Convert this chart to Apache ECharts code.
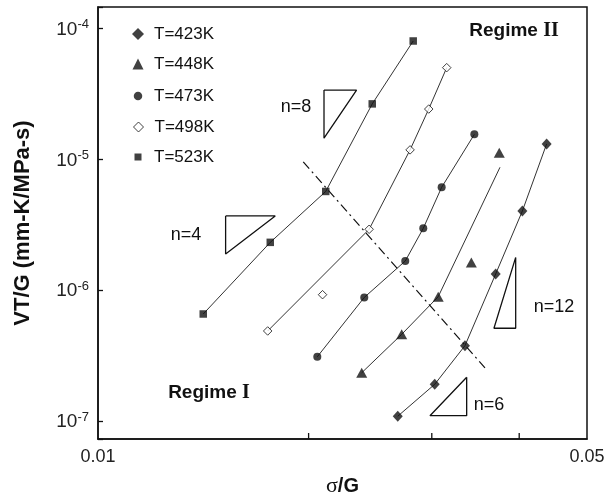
<!DOCTYPE html>
<html>
<head>
<meta charset="utf-8">
<script src="https://cdn.jsdelivr.net/npm/echarts@6/dist/echarts.min.js"></script>
<style>html,body{margin:0;padding:0;background:#fff;}#c{width:608px;height:502px;}</style>
</head>
<body>
<div id="c"></div>
<script>
// ---- data ----
const seriesNames = ['T=423K', 'T=448K', 'T=473K', 'T=498K', 'T=523K'];
const x423 = [0.02682, 0.03029, 0.03346, 0.03702, 0.04042, 0.04378];
const y423 = [1.09e-7, 1.91e-7, 3.77e-7, 1.33e-6, 4.03e-6, 1.31e-5];
const x448 = [0.02382, 0.02717, 0.03064, 0.03417, 0.03746];
const y448 = [2.34e-7, 4.60e-7, 8.92e-7, 1.63e-6, 1.12e-5];
const x473 = [0.02058, 0.02402, 0.02749, 0.02917, 0.03099, 0.03451];
const y473 = [3.10e-7, 8.80e-7, 1.67e-6, 2.97e-6, 6.11e-6, 1.55e-5];
const x498 = [0.01748, 0.02094, 0.02441, 0.02793, 0.0297, 0.03151];
const y498 = [4.88e-7, 9.24e-7, 2.92e-6, 1.18e-5, 2.42e-5, 5.01e-5];
const x523 = [0.01414, 0.01763, 0.02116, 0.02466, 0.02822];
const y523 = [6.58e-7, 2.32e-6, 5.68e-6, 2.65e-5, 8.01e-5];

// fitted lines drawn through the points (two regimes)
const fitX423 = [0.02682, 0.03029, 0.03346, 0.03702, 0.04042, 0.04378];
const fitY423 = [1.09e-7, 1.91e-7, 3.77e-7, 1.33e-6, 4.03e-6, 1.31e-5];
const fitX448 = [0.02382, 0.02717, 0.03064, 0.03755];
const fitY448 = [2.34e-7, 4.60e-7, 8.92e-7, 8.69e-6];
const fitX473 = [0.02058, 0.02402, 0.02749, 0.02917, 0.03099, 0.03451];
const fitY473 = [3.10e-7, 8.80e-7, 1.67e-6, 2.97e-6, 6.11e-6, 1.55e-5];
const fitX498 = [0.01748, 0.02441, 0.02793, 0.0297, 0.03151];
const fitY498 = [4.88e-7, 2.92e-6, 1.18e-5, 2.42e-5, 5.01e-5];
const fitX523 = [0.01414, 0.01763, 0.02116, 0.02466, 0.02822];
const fitY523 = [6.58e-7, 2.32e-6, 5.68e-6, 2.65e-5, 8.01e-5];

// regime boundary (dash-dot)
const boundaryX = [0.01965, 0.03574];
const boundaryY = [9.54e-6, 2.55e-7];

// slope triangles
const tri8X = [0.02104, 0.02342, 0.02104, 0.02104];
const tri8Y = [3.38e-5, 3.38e-5, 1.45e-5, 3.38e-5];
const tri4X = [0.01522, 0.01792, 0.01522, 0.01522];
const tri4Y = [3.69e-6, 3.69e-6, 1.89e-6, 3.69e-6];
const tri12X = [0.03954, 0.03954, 0.03681, 0.03954];
const tri12Y = [1.78e-6, 5.12e-7, 5.12e-7, 1.78e-6];
const tri6X = [0.03365, 0.03365, 0.02982, 0.03365];
const tri6Y = [2.16e-7, 1.10e-7, 1.10e-7, 2.16e-7];

const slopeLabels = ['n=8', 'n=4', 'n=12', 'n=6'];
const regimeLabels = ['Regime ', 'II', 'I'];
const xTickLabels = [0.01, 0.05];
const xMinorTicks = [0.02, 0.03, 0.04];
const yMinLog = -7.1367, yMaxLog = -3.8367;

// ---- build ----
const zip = (xs, ys) => xs.map((x, i) => [x, ys[i]]);
const SANS = '"Liberation Sans", Arial, Helvetica, sans-serif';
const SERIF = '"Liberation Serif", "Times New Roman", serif';
const Y_MIN = Math.pow(10, yMinLog), Y_MAX = Math.pow(10, yMaxLog);
const INK = '#111';

const markerStyles = [
  { symbol: 'diamond', size: [10, 11], item: { color: INK } },
  { symbol: 'triangle', size: [11, 10], item: { color: INK } },
  { symbol: 'circle', size: 8, item: { color: INK } },
  { symbol: 'diamond', size: 8.5, item: { color: '#fff', borderColor: INK, borderWidth: 1 } },
  { symbol: 'rect', size: 7.5, item: { color: INK } }
];
const pts = [zip(x423, y423), zip(x448, y448), zip(x473, y473), zip(x498, y498), zip(x523, y523)];
const fits = [zip(fitX423, fitY423), zip(fitX448, fitY448), zip(fitX473, fitY473), zip(fitX498, fitY498), zip(fitX523, fitY523)];

const series = [];
fits.forEach((d, i) => series.push({
  type: 'line', name: 'fit' + i, data: d, showSymbol: false, symbol: 'none', z: 2,
  lineStyle: { color: '#333', width: 1 }, silent: true
}));
series.push({
  type: 'line', name: 'boundary', data: zip(boundaryX, boundaryY), symbol: 'none', z: 2,
  lineStyle: { color: INK, width: 1.2, type: [9, 4, 2, 4] }, silent: true
});
[[tri8X, tri8Y], [tri4X, tri4Y], [tri12X, tri12Y], [tri6X, tri6Y]].forEach((t, i) => series.push({
  type: 'line', name: 'tri' + i, data: zip(t[0], t[1]), symbol: 'none', z: 2,
  lineStyle: { color: INK, width: 1.3 }, silent: true
}));
pts.forEach((d, i) => series.push({
  type: 'scatter', name: seriesNames[i], data: d, z: 5,
  symbol: markerStyles[i].symbol, symbolSize: markerStyles[i].size,
  itemStyle: markerStyles[i].item, silent: true
}));
series.push({
  type: 'custom', name: 'xminor', silent: true, z: 10, clip: false,
  data: xMinorTicks.map(v => [v, Y_MIN]),
  renderItem: (params, api) => {
    const p = api.coord([api.value(0), api.value(1)]);
    return { type: 'line', shape: { x1: p[0], y1: p[1], x2: p[0], y2: p[1] - 6 },
             style: { stroke: INK, lineWidth: 1.3 } };
  }
});

const legendRows = [34, 64, 96, 127, 157];
const legendIconSize = [12, 11, 8.5, 10, 7];
const legendIcons = ['diamond', 'triangle', 'circle', 'diamond', 'rect'];
const legends = seriesNames.map((n, i) => {
  const s = legendIconSize[i];
  return {
    data: [{ name: n, icon: legendIcons[i],
             itemStyle: i === 3 ? { color: '#fff', borderColor: INK, borderWidth: 1 } : { color: INK, borderWidth: 0 } }],
    left: 138 - s / 2, top: legendRows[i] - 10, orient: 'vertical', padding: 0, itemGap: 0,
    itemWidth: s, itemHeight: s, symbolKeepAspect: true, selectedMode: false,
    textStyle: { fontFamily: SANS, fontSize: 17, color: INK, lineHeight: 20,
                 padding: [0, 0, 0, Math.max(0, 154 - (138 + s / 2 + 5))] }
  };
});

const chart = echarts.init(document.getElementById('c'), null, { renderer: 'canvas' });
chart.setOption({
  animation: false,
  backgroundColor: '#fff',
  grid: { left: 98, right: 21, top: 7, bottom: 63, containLabel: false, outerBoundsMode: 'none',
          show: true, borderColor: INK, borderWidth: 1.5, backgroundColor: 'transparent' },
  legend: legends,
  xAxis: {
    type: 'log', logBase: 10, min: xTickLabels[0], max: xTickLabels[1],
    name: '{s|σ}{g|/G}', nameLocation: 'middle', nameGap: 36,
    nameTextStyle: { rich: { s: { fontFamily: SERIF, fontSize: 22, color: INK },
                             g: { fontFamily: SANS, fontSize: 20, fontWeight: 'bold', color: INK } } },
    axisLine: { show: true, lineStyle: { color: INK, width: 1.5 } },
    axisTick: { show: false },
    splitLine: { show: false }, minorTick: { show: false },
    axisLabel: { show: true, margin: 9, fontFamily: SANS, fontSize: 18, color: '#222',
      showMinLabel: true, showMaxLabel: true,
      formatter: v => { const r = Math.round(v * 100) / 100; return xTickLabels.includes(r) ? r.toFixed(2) : ''; } }
  },
  yAxis: {
    type: 'log', logBase: 10, min: Y_MIN, max: Y_MAX,
    name: 'VT/G (mm-K/MPa-s)', nameLocation: 'middle', nameGap: 64, nameRotate: 90,
    nameTextStyle: { fontFamily: SANS, fontSize: 22, fontWeight: 'bold', color: INK },
    axisLine: { show: true, lineStyle: { color: INK, width: 1.5 } },
    axisTick: { show: true, inside: true, length: 5, lineStyle: { color: INK, width: 1.3 } },
    splitLine: { show: false }, minorTick: { show: false },
    axisLabel: { show: true, margin: 9, color: '#222',
      showMinLabel: true, showMaxLabel: true,
      formatter: v => {
        const l = Math.log10(v), e = Math.round(l);
        if (Math.abs(l - e) > 1e-6) return '';
        return '{b|10}{s|' + e + '}';
      },
      rich: { b: { fontFamily: SANS, fontSize: 19, color: '#222', verticalAlign: 'bottom' },
              s: { fontFamily: SANS, fontSize: 13, color: '#222', verticalAlign: 'top', padding: [0, 0, 8, 0] } } }
  },
  graphic: [
    { type: 'text', x: 296, y: 107, silent: true, style: { text: slopeLabels[0], font: '18px ' + SANS, fill: INK, align: 'center', verticalAlign: 'middle' } },
    { type: 'text', x: 186, y: 235, silent: true, style: { text: slopeLabels[1], font: '18px ' + SANS, fill: INK, align: 'center', verticalAlign: 'middle' } },
    { type: 'text', x: 554, y: 307, silent: true, style: { text: slopeLabels[2], font: '18px ' + SANS, fill: INK, align: 'center', verticalAlign: 'middle' } },
    { type: 'text', x: 489, y: 405, silent: true, style: { text: slopeLabels[3], font: '18px ' + SANS, fill: INK, align: 'center', verticalAlign: 'middle' } },
    { type: 'text', x: 514, y: 31, silent: true, style: {
        text: '{a|' + regimeLabels[0] + '}{b|' + regimeLabels[1] + '}', align: 'center', verticalAlign: 'middle',
        rich: { a: { font: 'bold 19px ' + SANS, fill: INK }, b: { font: 'bold 20px ' + SERIF, fill: INK } } } },
    { type: 'text', x: 209, y: 393, silent: true, style: {
        text: '{a|' + regimeLabels[0] + '}{b|' + regimeLabels[2] + '}', align: 'center', verticalAlign: 'middle',
        rich: { a: { font: 'bold 19px ' + SANS, fill: INK }, b: { font: 'bold 20px ' + SERIF, fill: INK } } } }
  ],
  series: series
});
</script>
</body>
</html>
